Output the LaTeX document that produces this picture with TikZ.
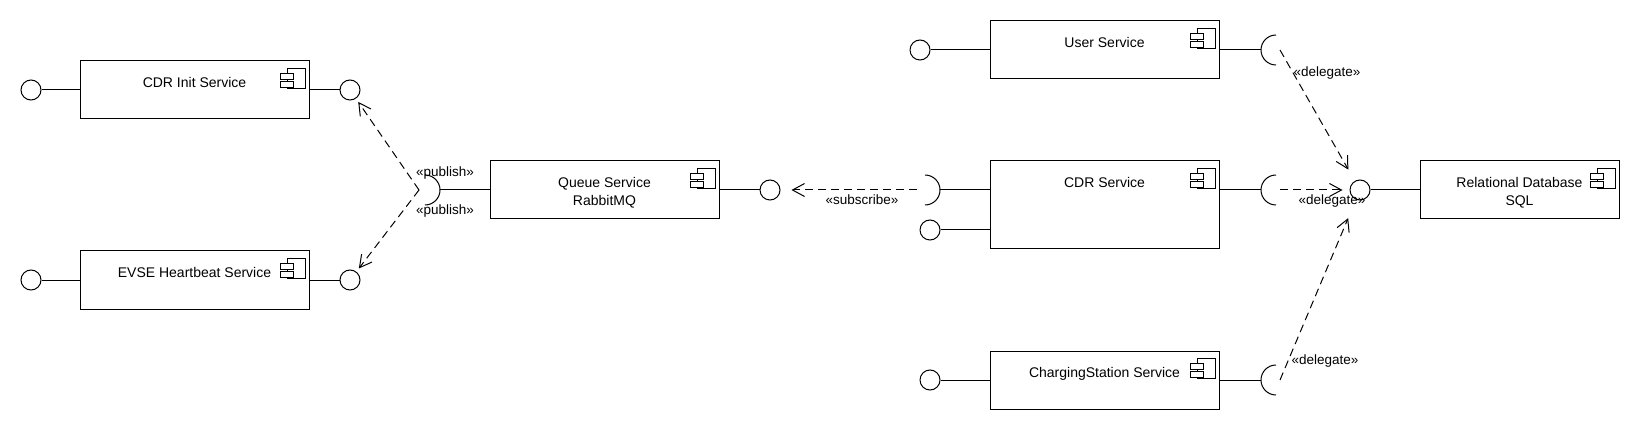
\documentclass[tikz,border=0pt]{standalone}
\usepackage{fontspec}
\setmainfont{Liberation Sans}
\usetikzlibrary{arrows.meta}
\tikzset{>={Straight Barb[length=12pt,width=13pt]}}
\tikzstyle{comp}=[rectangle,draw,fill=white,minimum width=229pt,minimum height=58pt,inner sep=0]
\tikzstyle{comptext}=[anchor=north,inner sep=0,align=center,font=\fontsize{14}{18}\selectfont]
\tikzstyle{iface}=[circle,draw,fill=white,minimum size=20pt,inner sep=0]
\tikzstyle{dep}=[->,dash pattern=on 8pt off 5pt]
\tikzstyle{stereo}=[inner sep=0,font=\fontsize{13.5}{16}\selectfont]

\begin{document}
\begin{tikzpicture}[x=1pt,y=-1pt,line width=1pt]
	\useasboundingbox (0,0) rectangle (1640,430);

	\node[comp] (cdrinit) at (194.5,90) {};
	\node[comp] (evse) at (194.5,280) {};
	\node[comp] (queue) at (604.5,190) {};
	\node[comp] (user) at (1104.5,50) {};
	\node[comp, minimum height=88pt] (cdr) at (1104.5,205) {};
	\node[comp] (charging) at (1104.5,380) {};
	\node[comp, minimum width=199pt] (db) at (1519.5,190) {};

	\node[comptext] (cdrinitlab) at ([yshift=-16pt]cdrinit.north) {CDR Init Service};
	\node[comptext] (evselab) at ([yshift=-16pt]evse.north) {EVSE Heartbeat Service};
	\node[comptext] (queuelab) at ([yshift=-16pt]queue.north) {Queue Service\\RabbitMQ};
	\node[comptext] (userlab) at ([yshift=-16pt]user.north) {User Service};
	\node[comptext] (cdrlab) at ([yshift=-16pt]cdr.north) {CDR Service};
	\node[comptext] (charginglab) at ([yshift=-16pt]charging.north) {ChargingStation Service};
	\node[comptext] (dblab) at ([yshift=-16pt]db.north) {Relational Database\\SQL};

	% component icons
	\foreach \c in {cdrinit,evse,queue,user,cdr,charging,db} {
		\begin{scope}[shift={(\c.north east)}]
			\draw (-22,8) rectangle (-4,28);
			\draw[fill=white] (-29,13) rectangle (-16,19);
			\draw[fill=white] (-29,21) rectangle (-16,27);
		\end{scope}
	}

	\node[iface] (cdrinitL) at (31,90) {};
	\node[iface] (cdrinitR) at (350,90) {};
	\node[iface] (evseL) at (31,280) {};
	\node[iface] (evseR) at (350,280) {};
	\node[iface] (queueR) at (770,190) {};
	\node[iface] (userL) at (920,50) {};
	\node[iface] (cdrL) at (930,230) {};
	\node[iface] (chargingL) at (930,380) {};
	\node[iface] (dbL) at (1360,190) {};

	\coordinate (queueS) at (425,190);
	\coordinate (cdrSL) at (925,190);
	\coordinate (userS) at (1276,50);
	\coordinate (cdrS) at (1276,190);
	\coordinate (chargingS) at (1276,380);

	\draw ([yshift=15pt]queueS) arc[start angle=-90,end angle=90,radius=15];
	\draw ([yshift=15pt]cdrSL) arc[start angle=-90,end angle=90,radius=15];
	\draw ([yshift=15pt]userS) arc[start angle=-90,end angle=-270,radius=15];
	\draw ([yshift=15pt]cdrS) arc[start angle=-90,end angle=-270,radius=15];
	\draw ([yshift=15pt]chargingS) arc[start angle=-90,end angle=-270,radius=15];

	\draw[-] (cdrinitL) -- (cdrinit);
	\draw[-] (cdrinit) -- (cdrinitR);
	\draw[-] (evseL) -- (evse);
	\draw[-] (evse) -- (evseR);
	\draw[-] ([xshift=15pt]queueS) -- (queue);
	\draw[-] (queue) -- (queueR);
	\draw[-] (userL) -- (user);
	\draw[-] (user) -- ([xshift=-15pt]userS);
	\draw[-] ([xshift=15pt]cdrSL) -- (cdr.west |- cdrSL);
	\draw[-] (cdrL) -- (cdr.west |- cdrL);
	\draw[-] (cdr.east |- cdrS) -- ([xshift=-15pt]cdrS);
	\draw[-] (chargingL) -- (charging);
	\draw[-] (charging) -- ([xshift=-15pt]chargingS);
	\draw[-] (dbL) -- (db);

	\draw[dep, shorten >=4pt] ([xshift=-6pt]queueS) -- (cdrinitR);
	\draw[dep, shorten >=4pt] ([xshift=-6pt]queueS) -- (evseR);
	\draw[dep, shorten >=11pt] ([xshift=-8pt]cdrSL) -- (queueR);
	\draw[dep, shorten >=13pt] ([xshift=4pt]userS) -- (dbL);
	\draw[dep, shorten >=7pt] ([xshift=4pt]cdrS) -- (dbL);
	\draw[dep, shorten >=20pt] ([xshift=4pt]chargingS) -- (dbL);

	\node[stereo] (publab1) at (445,173) {«publish»};
	\node[stereo] (publab2) at (445,211) {«publish»};
	\node[stereo] (sublab) at (862,200) {«subscribe»};
	\node[stereo] (dellab1) at (1327,73) {«delegate»};
	\node[stereo] (dellab2) at (1332,201) {«delegate»};
	\node[stereo] (dellab3) at (1325,361) {«delegate»};

\end{tikzpicture}
\end{document}
